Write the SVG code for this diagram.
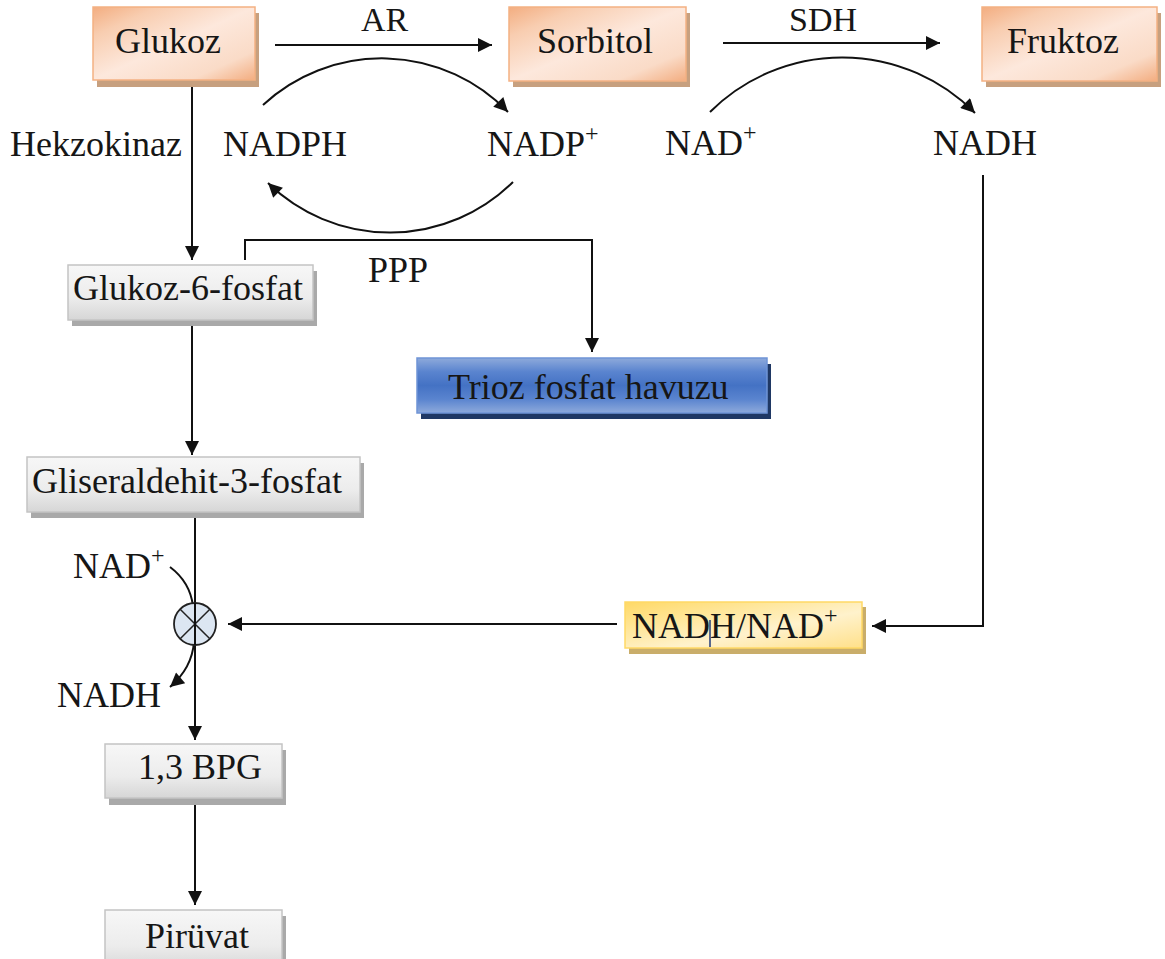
<svg xmlns="http://www.w3.org/2000/svg" width="1165" height="959" viewBox="0 0 1165 959">
<defs>
<style>
text{font-family:"Liberation Serif","Times New Roman",serif;font-size:36px;fill:#161616}
.sup{font-size:24px}
.top{font-size:34px}
.ln{fill:none;stroke:#111;stroke-width:2}
.arr{marker-end:url(#ah)}
.orange{fill:url(#gOrange);stroke:#f4b183;stroke-width:1.5}
.orangeSh{fill:#c7a07f}
.gray{fill:url(#gGray);stroke:#c4c4c4;stroke-width:1.5}
.graySh{fill:#a9a9a9}
.blue{fill:url(#gBlue);stroke:#6f94d6;stroke-width:1.5}
.blueSh{fill:#1f3864}
.yellow{fill:url(#gYellow);stroke:#ffd966;stroke-width:1.5}
.yellowSh{fill:#c9ad6a}
</style>
<marker id="ah" viewBox="0 0 10 10" refX="10" refY="5" markerWidth="16" markerHeight="14" markerUnits="userSpaceOnUse" orient="auto">
<path d="M0,0 L10,5 L0,10 z" fill="#111"/>
</marker>
<linearGradient id="gOrange" x1="0" y1="0" x2="1" y2="1">
<stop offset="0" stop-color="#f3ad80"/>
<stop offset="0.2" stop-color="#f8cdb0"/>
<stop offset="0.5" stop-color="#fde8dc"/>
<stop offset="0.8" stop-color="#fadbc7"/>
<stop offset="1" stop-color="#f3ad80"/>
</linearGradient>
<linearGradient id="gGray" x1="0" y1="0" x2="0" y2="1">
<stop offset="0" stop-color="#f7f7f7"/>
<stop offset="0.6" stop-color="#ececec"/>
<stop offset="1" stop-color="#d6d6d6"/>
</linearGradient>
<linearGradient id="gBlue" x1="0" y1="0" x2="0" y2="1">
<stop offset="0" stop-color="#8eaadb"/>
<stop offset="0.25" stop-color="#5a84cf"/>
<stop offset="0.5" stop-color="#4472c4"/>
<stop offset="0.75" stop-color="#5a84cf"/>
<stop offset="1" stop-color="#8eaadb"/>
</linearGradient>
<linearGradient id="gYellow" x1="0" y1="0" x2="1" y2="1">
<stop offset="0" stop-color="#ffd966"/>
<stop offset="0.3" stop-color="#ffe699"/>
<stop offset="0.6" stop-color="#fff2cc"/>
<stop offset="1" stop-color="#ffe08a"/>
</linearGradient>
</defs>
<rect width="1165" height="959" fill="#fff"/>

<g id="glukoz">
<rect class="orangeSh" x="97" y="13" width="162" height="74"/>
<rect class="orange" x="93" y="7" width="162" height="73"/>
<text x="115" y="53">Glukoz</text>
</g>
<g id="sorbitol">
<rect class="orangeSh" x="513" y="13" width="177" height="74"/>
<rect class="orange" x="509" y="7" width="177" height="74"/>
<text x="537" y="53">Sorbitol</text>
</g>
<g id="fruktoz">
<rect class="orangeSh" x="986" y="13" width="175" height="74"/>
<rect class="orange" x="982" y="7" width="175" height="74"/>
<text x="1007" y="53">Fruktoz</text>
</g>
<g id="g6p">
<rect class="graySh" x="72" y="271" width="245" height="55"/>
<rect class="gray" x="68" y="265" width="245" height="55"/>
<text x="73" y="300">Glukoz-6-fosfat</text>
</g>
<g id="trioz">
<rect class="blueSh" x="421" y="364" width="350" height="55"/>
<rect class="blue" x="417" y="358" width="350" height="55"/>
<text x="448" y="399">Trioz fosfat havuzu</text>
</g>
<g id="g3p">
<rect class="graySh" x="31" y="463" width="333" height="55"/>
<rect class="gray" x="27" y="457" width="333" height="55"/>
<text x="32" y="493">Gliseraldehit-3-fosfat</text>
</g>
<g id="nadhnad">
<rect class="yellowSh" x="629" y="607" width="237" height="47"/>
<rect class="yellow" x="625" y="602" width="237" height="46"/>
<text x="632" y="638">NADH/NAD<tspan class="sup" dy="-15">+</tspan></text>
<line x1="710" y1="620" x2="710" y2="647" stroke="#1f3a7a" stroke-width="1.5"/>
</g>
<g id="bpg">
<rect class="graySh" x="109" y="750" width="177" height="55"/>
<rect class="gray" x="105" y="744" width="177" height="54"/>
<text x="138" y="779">1,3 BPG</text>
</g>
<g id="piruvat">
<rect class="graySh" x="109" y="916" width="177" height="60"/>
<rect class="gray" x="105" y="910" width="177" height="60"/>
<text x="145" y="948">Pirüvat</text>
</g>

<g id="labels">
<text class="top" x="361" y="31">AR</text>
<text class="top" x="789" y="31">SDH</text>
<text x="10" y="156">Hekzokinaz</text>
<text x="223" y="156">NADPH</text>
<text x="487" y="156">NADP<tspan class="sup" dy="-15">+</tspan></text>
<text x="665" y="155">NAD<tspan class="sup" dy="-15">+</tspan></text>
<text x="933" y="155">NADH</text>
<text x="368" y="282">PPP</text>
<text x="73" y="578">NAD<tspan class="sup" dy="-15">+</tspan></text>
<text x="57" y="707">NADH</text>
</g>

<g id="connectors">
<path class="ln arr" d="M275,45 H492"/>
<path class="ln arr" d="M723,43 H940"/>
<path class="ln arr" d="M263,105 A175,175 0 0 1 508,112"/>
<path class="ln arr" d="M513,182 A175,175 0 0 1 268,183"/>
<path class="ln arr" d="M710,112 A187,187 0 0 1 975,113"/>
<path class="ln arr" d="M192,87 V260"/>
<path class="ln arr" d="M192,326 V455"/>
<path class="ln arr" d="M245,260 V240 H592 V352"/>
<path class="ln arr" d="M983,175 V626 H872"/>
<path class="ln arr" d="M617,624 H228"/>
<path class="ln arr" d="M195,518 V740"/>
<path class="ln arr" d="M195,805 V905"/>
<path class="ln" d="M170,567 Q190,582 193,606"/>
<path class="ln arr" d="M194,642 Q192,668 170,687"/>
<g id="mix">
<circle cx="195" cy="624" r="21" fill="#dce6f2" stroke="#222" stroke-width="1.8"/>
<path d="M180.2,609.2 L209.8,638.8 M209.8,609.2 L180.2,638.8" stroke="#222" stroke-width="1.5"/>
<path d="M195,603 V645" stroke="#111" stroke-width="2"/>
</g>
</g>
</svg>
